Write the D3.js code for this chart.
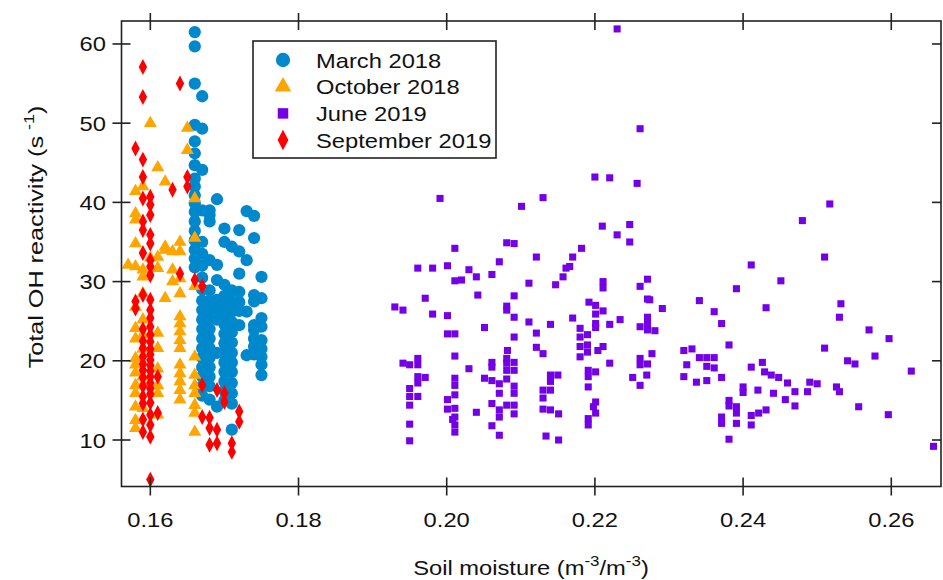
<!DOCTYPE html>
<html>
<head>
<meta charset="utf-8">
<script src="https://cdn.jsdelivr.net/npm/d3@7"></script>
<style>
  body { margin: 0; background: #fff; }
  svg { display: block; font-family: "Liberation Sans", Arial, sans-serif; }
</style>
</head>
<body>
<div id="chart"></div>
<script>
// soil moisture (m-3/m-3), total OH reactivity (s-1)
const march2018 = [
  [0.166, 61.5], [0.166, 59.7], [0.166, 55.0], [0.166, 49.8], [0.166, 47.7], [0.166, 46.2], [0.166, 44.7],
  [0.166, 43.0], [0.166, 42.0], [0.166, 40.9], [0.166, 39.9], [0.166, 38.8], [0.166, 37.6], [0.166, 36.4],
  [0.166, 35.2], [0.166, 34.0], [0.166, 32.9], [0.166, 31.8],
  [0.167, 53.4], [0.167, 49.3], [0.167, 44.1], [0.167, 39.0], [0.167, 35.0], [0.167, 33.5], [0.167, 32.0],
  [0.167, 30.5], [0.167, 29.0], [0.167, 27.6], [0.167, 26.4], [0.167, 25.2], [0.167, 24.0], [0.167, 22.8],
  [0.167, 21.6], [0.167, 20.4], [0.167, 19.2], [0.167, 18.0], [0.167, 16.8], [0.167, 15.6],
  [0.168, 39.0], [0.168, 38.4], [0.168, 37.6], [0.168, 32.7], [0.168, 28.9], [0.168, 27.6], [0.168, 26.4],
  [0.168, 25.2], [0.168, 24.0], [0.168, 22.8], [0.168, 21.6], [0.168, 20.4], [0.168, 19.2], [0.168, 18.0],
  [0.168, 16.8], [0.168, 15.1],
  [0.169, 40.4], [0.169, 32.1], [0.169, 30.2], [0.169, 27.7], [0.169, 26.5], [0.169, 25.2], [0.169, 21.0],
  [0.169, 14.2],
  [0.170, 36.7], [0.170, 35.0], [0.170, 29.6], [0.170, 28.2], [0.170, 27.0], [0.170, 25.8], [0.170, 24.6],
  [0.170, 23.4], [0.170, 22.2], [0.170, 21.0], [0.170, 19.8], [0.170, 18.6], [0.170, 17.4], [0.170, 16.2],
  [0.170, 15.0],
  [0.171, 34.4], [0.171, 28.9], [0.171, 27.5], [0.171, 26.2], [0.171, 24.9], [0.171, 23.6], [0.171, 22.3],
  [0.171, 21.0], [0.171, 19.8], [0.171, 18.6], [0.171, 17.2], [0.171, 15.9], [0.171, 14.6], [0.171, 11.3],
  [0.172, 36.5], [0.172, 33.8], [0.172, 31.0], [0.172, 28.7], [0.172, 27.4], [0.172, 26.3], [0.172, 24.5],
  [0.173, 38.9], [0.173, 32.7], [0.173, 26.2], [0.173, 20.7],
  [0.174, 38.3], [0.174, 35.5], [0.174, 28.3], [0.174, 27.5], [0.174, 24.5], [0.174, 23.9], [0.174, 22.8],
  [0.174, 21.8], [0.174, 20.8],
  [0.175, 30.6], [0.175, 27.9], [0.175, 25.4], [0.175, 24.3], [0.175, 22.6], [0.175, 21.5], [0.175, 20.5],
  [0.175, 19.5], [0.175, 18.2]
];

const october2018 = [
  [0.157, 32.1],
  [0.158, 41.4], [0.158, 38.6], [0.158, 37.8], [0.158, 34.8], [0.158, 31.9], [0.158, 26.8], [0.158, 24.1],
  [0.158, 22.8], [0.158, 20.3], [0.158, 19.5], [0.158, 18.5], [0.158, 16.9], [0.158, 15.9], [0.158, 14.2],
  [0.158, 12.5], [0.158, 11.5],
  [0.159, 42.0], [0.159, 31.5], [0.159, 30.6], [0.159, 28.5], [0.159, 25.2], [0.159, 23.3], [0.159, 21.5],
  [0.159, 18.0], [0.159, 17.0], [0.159, 14.0],
  [0.160, 50.0], [0.160, 33.0],
  [0.161, 44.4], [0.161, 33.1], [0.161, 31.7], [0.161, 23.5], [0.161, 21.6], [0.161, 19.0], [0.161, 16.9],
  [0.161, 15.9], [0.161, 13.2],
  [0.162, 42.6], [0.162, 34.4], [0.162, 34.0], [0.162, 27.9],
  [0.163, 33.8], [0.163, 31.5], [0.163, 30.0],
  [0.164, 35.0], [0.164, 33.8], [0.164, 30.4], [0.164, 28.5], [0.164, 25.6], [0.164, 24.7], [0.164, 23.7],
  [0.164, 22.6], [0.164, 21.6], [0.164, 19.5], [0.164, 18.4], [0.164, 17.4], [0.164, 16.3], [0.164, 15.1],
  [0.165, 49.4], [0.165, 46.6],
  [0.166, 40.5], [0.166, 35.5], [0.166, 29.4], [0.166, 20.5], [0.166, 18.2], [0.166, 16.9], [0.166, 15.9],
  [0.166, 14.4], [0.166, 13.4], [0.166, 11.0]
];

const june2019 = [
  [0.2230, 61.9], [0.2261, 49.3], [0.1991, 40.5], [0.2101, 39.5], [0.2130, 40.6], [0.2200, 43.2],
  [0.2220, 43.1], [0.2257, 42.4], [0.2210, 37.0], [0.2230, 35.9], [0.2247, 37.2], [0.2247, 35.0],
  [0.2081, 34.9], [0.2091, 34.8], [0.2011, 34.2], [0.2182, 34.2], [0.2121, 33.1], [0.2071, 32.5],
  [0.2170, 33.1], [0.1961, 31.7], [0.1981, 31.7], [0.2001, 32.0], [0.2030, 31.5], [0.2011, 30.1],
  [0.2020, 30.2], [0.2040, 30.6], [0.2061, 30.9], [0.2161, 31.7], [0.2166, 31.9], [0.2157, 30.6],
  [0.2111, 29.8], [0.2147, 29.6], [0.2211, 30.0], [0.2211, 29.2], [0.2271, 30.3], [0.2261, 29.4],
  [0.1930, 26.8], [0.1941, 26.4], [0.1971, 27.9], [0.1981, 25.9], [0.2001, 25.7], [0.2042, 28.3],
  [0.2081, 26.9], [0.2081, 26.4], [0.2091, 28.2], [0.2091, 25.5], [0.2051, 24.2], [0.2111, 24.9],
  [0.2140, 24.6], [0.2170, 25.4], [0.2192, 27.4], [0.2201, 27.0], [0.2211, 26.3], [0.2201, 25.9],
  [0.2201, 24.7], [0.2201, 24.2], [0.2220, 24.6], [0.2234, 25.2], [0.2271, 27.8], [0.2274, 27.7],
  [0.2291, 26.6], [0.2271, 25.5], [0.2271, 24.7], [0.2271, 23.9], [0.2261, 24.3], [0.2281, 23.8],
  [0.2011, 23.4], [0.2001, 23.4], [0.2091, 23.0], [0.2121, 23.5], [0.2180, 24.1], [0.2180, 23.0],
  [0.2190, 23.3], [0.2180, 21.8], [0.2190, 22.0], [0.2190, 21.1], [0.2180, 20.5], [0.2211, 21.8],
  [0.2204, 21.3], [0.2121, 21.7], [0.2130, 20.9], [0.2011, 20.6], [0.2082, 21.3],
  [0.1941, 19.7], [0.1950, 19.5], [0.1961, 20.3], [0.1961, 19.5], [0.2030, 19.0], [0.2061, 19.8],
  [0.2061, 19.2], [0.2081, 20.3], [0.2081, 19.7], [0.2081, 18.8], [0.2091, 19.8], [0.2091, 18.8],
  [0.2220, 19.7], [0.2261, 20.3], [0.2261, 19.5], [0.2271, 19.6], [0.2277, 20.9],
  [0.1961, 18.0], [0.1961, 17.2], [0.1971, 17.9], [0.1950, 16.5], [0.1950, 15.5], [0.1950, 14.4],
  [0.1961, 15.5], [0.1950, 12.0], [0.1950, 9.9],
  [0.2011, 17.8], [0.2011, 16.9], [0.2011, 15.7], [0.2001, 15.1], [0.2001, 13.9], [0.2011, 14.0],
  [0.2011, 12.9], [0.2011, 11.9], [0.2011, 11.0], [0.2008, 12.6], [0.2040, 13.5], [0.2051, 17.8],
  [0.2061, 17.5], [0.2071, 17.1], [0.2071, 15.9], [0.2071, 13.8], [0.2071, 12.9], [0.2061, 14.6],
  [0.2081, 17.7], [0.2081, 14.4], [0.2091, 16.8], [0.2091, 15.9], [0.2091, 14.4], [0.2091, 13.3],
  [0.2061, 11.8], [0.2071, 10.6],
  [0.2140, 18.2], [0.2150, 18.2], [0.2140, 17.4], [0.2130, 16.3], [0.2140, 16.3], [0.2130, 15.3],
  [0.2130, 13.9], [0.2140, 13.8], [0.2151, 13.3], [0.2134, 10.5], [0.2151, 10.0],
  [0.2191, 18.8], [0.2201, 18.6], [0.2191, 18.0], [0.2191, 16.7], [0.2201, 14.8], [0.2198, 14.2],
  [0.2201, 13.4], [0.2191, 12.7], [0.2191, 11.9],
  [0.2251, 17.9], [0.2261, 16.9], [0.2270, 18.2],
  [0.2411, 32.1], [0.2391, 29.1], [0.2451, 30.1], [0.2341, 27.6], [0.2361, 26.2], [0.2371, 24.7],
  [0.2431, 26.7], [0.2510, 33.1], [0.2532, 27.2], [0.2530, 25.5], [0.2570, 23.9], [0.2597, 22.8],
  [0.2510, 21.6], [0.2578, 20.6], [0.2541, 20.0], [0.2551, 19.6], [0.2627, 18.7], [0.2381, 22.0],
  [0.2320, 21.3], [0.2331, 21.5], [0.2341, 20.4], [0.2351, 20.4], [0.2361, 20.4], [0.2324, 19.5],
  [0.2351, 19.3], [0.2361, 19.1], [0.2320, 18.0], [0.2337, 17.3], [0.2351, 17.5], [0.2371, 17.9],
  [0.2411, 19.2], [0.2426, 19.8], [0.2429, 18.6], [0.2438, 18.2], [0.2448, 17.9], [0.2460, 17.2],
  [0.2400, 16.7], [0.2400, 16.0], [0.2420, 16.3], [0.2441, 15.9], [0.2470, 16.1], [0.2487, 16.1],
  [0.2490, 17.3], [0.2500, 17.1], [0.2526, 16.7], [0.2530, 16.1], [0.2457, 15.1], [0.2470, 14.3],
  [0.2556, 14.2], [0.2596, 13.2], [0.2381, 15.0], [0.2381, 14.3], [0.2391, 14.2], [0.2391, 13.4],
  [0.2371, 12.9], [0.2371, 12.1], [0.2391, 12.1], [0.2411, 13.1], [0.2421, 13.4], [0.2431, 13.8],
  [0.2411, 11.9], [0.2381, 10.1], [0.2657, 9.2], [0.2517, 39.8], [0.2480, 37.7]
];

const september2019 = [
  [0.158, 46.8], [0.158, 27.5], [0.158, 26.6],
  [0.159, 57.1], [0.159, 53.3], [0.159, 45.4], [0.159, 43.2], [0.159, 40.5], [0.159, 37.6], [0.159, 36.5],
  [0.159, 33.6], [0.159, 28.3], [0.159, 24.0], [0.159, 22.5], [0.159, 21.6], [0.159, 20.5], [0.159, 19.6],
  [0.159, 18.8], [0.159, 17.9], [0.159, 16.8], [0.159, 15.5], [0.159, 14.6], [0.159, 12.6], [0.159, 11.0],
  [0.160, 40.7], [0.160, 39.7], [0.160, 38.4], [0.160, 35.9], [0.160, 34.8], [0.160, 32.7], [0.160, 31.9],
  [0.160, 30.8], [0.160, 27.7], [0.160, 26.4], [0.160, 25.4], [0.160, 24.3], [0.160, 23.3], [0.160, 22.4],
  [0.160, 21.5], [0.160, 20.8], [0.160, 20.1], [0.160, 19.4], [0.160, 18.7], [0.160, 18.0], [0.160, 17.2],
  [0.160, 16.5], [0.160, 15.8], [0.160, 14.7], [0.160, 13.2], [0.160, 11.9], [0.160, 10.4], [0.160, 5.0],
  [0.161, 18.0], [0.161, 13.4],
  [0.163, 41.6], [0.164, 55.0], [0.164, 31.0], [0.165, 43.2], [0.165, 42.0], [0.166, 30.2],
  [0.167, 29.4], [0.167, 16.9], [0.167, 12.9], [0.168, 12.8], [0.168, 11.5], [0.168, 9.4],
  [0.169, 16.3], [0.169, 11.3], [0.169, 9.6], [0.170, 15.9], [0.170, 14.8], [0.171, 9.6], [0.171, 8.5],
  [0.172, 13.6], [0.172, 12.3]
];

const seriesNames = ["March 2018", "October 2018", "June 2019", "September 2019"];
const seriesColors = ["#0088cc", "#ffa500", "#7300e6", "#ff0000"];
const xTicks = [0.16, 0.18, 0.20, 0.22, 0.24, 0.26];
const yTicks = [10, 20, 30, 40, 50, 60];

const width = 943, height = 580;
const margin = { top: 21, right: 2, bottom: 93.5, left: 121.5 };
const stretch = 1.13; // the original text is set a little wider than Arial

const svg = d3.select("#chart").append("svg")
  .attr("width", width)
  .attr("height", height);

const x = d3.scaleLinear()
  .domain([0.15611, 0.26671])
  .range([margin.left, width - margin.right]);

const y = d3.scaleLinear()
  .domain([4.13, 62.9])
  .range([height - margin.bottom, margin.top]);

// diamond for September, taller than wide
const diamond = (s) => `M0,${-s * 1.9}L${s},0L0,${s * 1.9}L${-s},0Z`;

const shapes = [
  d3.symbol().type(d3.symbolCircle).size(118)(),
  d3.symbol().type(d3.symbolTriangle).size(74)(),
  d3.symbol().type(d3.symbolSquare).size(50)(),
  diamond(4.2)
];
const legendShapes = [
  d3.symbol().type(d3.symbolCircle).size(160)(),
  d3.symbol().type(d3.symbolTriangle).size(120)(),
  d3.symbol().type(d3.symbolSquare).size(110)(),
  diamond(5.4)
];

const allSeries = [march2018, october2018, june2019, september2019];

allSeries.forEach((data, i) => {
  svg.append("g")
    .selectAll("path")
    .data(data)
    .join("path")
    .attr("d", shapes[i])
    .attr("transform", d => `translate(${x(d[0])},${y(d[1])})`)
    .attr("fill", seriesColors[i]);
});

// frame and ticks
const x0 = margin.left, x1 = width - margin.right;
const y0 = height - margin.bottom, y1 = margin.top;
const frame = svg.append("g").attr("stroke", "#222").attr("stroke-width", 1.6).attr("fill", "none");
frame.append("rect").attr("x", x0).attr("y", y1).attr("width", x1 - x0).attr("height", y0 - y1);

frame.selectAll(".xt").data(xTicks).join("line")
  .attr("x1", d => x(d)).attr("x2", d => x(d))
  .attr("y1", y0 - 9).attr("y2", y0 + 9);
frame.selectAll(".xtt").data(xTicks).join("line")
  .attr("x1", d => x(d)).attr("x2", d => x(d))
  .attr("y1", y1 - 8).attr("y2", y1 + 9);
frame.selectAll(".yt").data(yTicks).join("line")
  .attr("x1", x0 - 9).attr("x2", x0 + 9)
  .attr("y1", d => y(d)).attr("y2", d => y(d));
frame.selectAll(".ytr").data(yTicks).join("line")
  .attr("x1", x1 - 9).attr("x2", x1)
  .attr("y1", d => y(d)).attr("y2", d => y(d));

svg.append("g").selectAll("text").data(xTicks).join("text")
  .attr("transform", d => `translate(${x(d)},527) scale(${stretch},1)`)
  .attr("text-anchor", "middle")
  .attr("font-size", 21)
  .attr("fill", "#111")
  .text(d3.format(".2f"));

svg.append("g").selectAll("text").data(yTicks).join("text")
  .attr("transform", d => `translate(106,${y(d) + 7.5}) scale(${stretch},1)`)
  .attr("text-anchor", "end")
  .attr("font-size", 21)
  .attr("fill", "#111")
  .text(d => d);

// axis titles
const xTitle = svg.append("text")
  .attr("transform", `translate(531,575) scale(${stretch},1)`)
  .attr("text-anchor", "middle")
  .attr("font-size", 21)
  .attr("fill", "#111");
xTitle.append("tspan").text("Soil moisture (m");
xTitle.append("tspan").attr("dy", -9).attr("font-size", 15).text("-3");
xTitle.append("tspan").attr("dy", 9).text("/m");
xTitle.append("tspan").attr("dy", -9).attr("font-size", 15).text("-3");
xTitle.append("tspan").attr("dy", 9).text(")");

const yTitle = svg.append("text")
  .attr("transform", `translate(43,237) rotate(-90) scale(1.2,1)`)
  .attr("text-anchor", "middle")
  .attr("font-size", 21)
  .attr("fill", "#111");
yTitle.append("tspan").text("Total OH reactivity (s");
yTitle.append("tspan").attr("dx", 5).attr("dy", -9).attr("font-size", 15).text("-1");
yTitle.append("tspan").attr("dy", 9).text(")");

// legend
const legend = svg.append("g");
legend.append("rect")
  .attr("x", 253).attr("y", 41).attr("width", 243).attr("height", 117)
  .attr("fill", "#fff").attr("stroke", "#222").attr("stroke-width", 1.6);

seriesNames.forEach((name, i) => {
  const cy = 60 + i * 26.7;
  legend.append("path")
    .attr("d", legendShapes[i])
    .attr("transform", `translate(283,${cy})`)
    .attr("fill", seriesColors[i]);
  legend.append("text")
    .attr("transform", `translate(316,${cy + 7.5}) scale(${stretch},1)`)
    .attr("font-size", 21)
    .attr("fill", "#111")
    .text(name);
});
</script>
</body>
</html>
